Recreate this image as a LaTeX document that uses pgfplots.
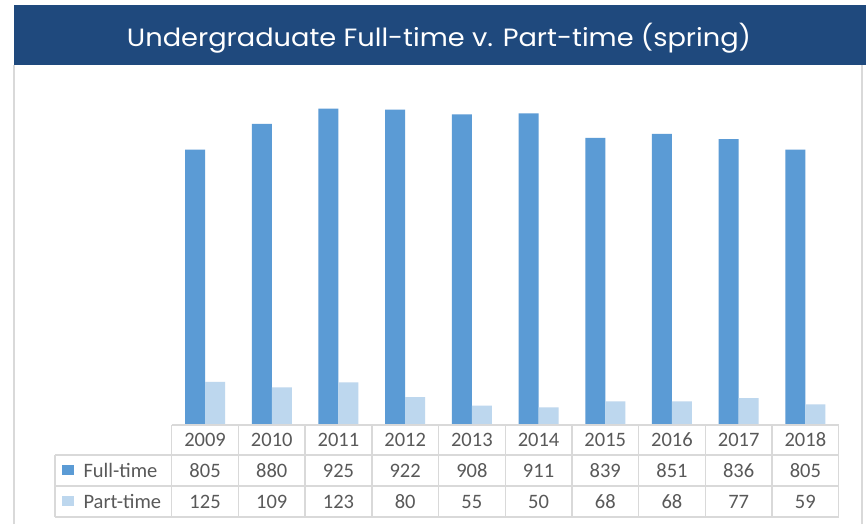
\documentclass[border=0pt]{standalone}
\usepackage{fontspec}
\setmainfont{Carlito}
\newfontfamily\titlefont{Poppins}
\usepackage{pgfplots}
\pgfplotsset{compat=1.18}
\definecolor{banner}{HTML}{1F497D}
\definecolor{fullc}{HTML}{5B9BD5}
\definecolor{partc}{HTML}{BDD7EE}
\definecolor{gridc}{HTML}{D9D9D9}
\definecolor{txt}{HTML}{595959}
\begin{document}
\begin{tikzpicture}
\begin{scope}[x=1pt,y=1pt]
\fill[white] (0,0) rectangle (866,524);
% banner
\fill[banner] (14,459) rectangle (866,519);
\node[text=white,font=\titlefont\fontsize{25}{30}\selectfont,anchor=base,xscale=1.09] at (439,477.5) {Undergraduate Full-time v. Part-time (spring)};
% frame
\draw[gridc,line width=1.2pt] (14,0) -- (14,459);
\draw[gridc,line width=1.2pt] (862,0) -- (862,459);
\end{scope}
\begin{axis}[
  at={(171.7pt,99.5pt)}, anchor=south west,
  scale only axis, width=667pt, height=341.5pt,
  xmin=-0.5, xmax=9.5, ymin=0, ymax=1000,
  hide axis, clip=false,
  ybar=0pt, bar width=20pt,
]
\addplot[fill=fullc,draw=none] coordinates {(0,805) (1,880) (2,925) (3,922) (4,908) (5,911) (6,839) (7,851) (8,836) (9,805)};
\addplot[fill=partc,draw=none] coordinates {(0,125) (1,109) (2,123) (3,80) (4,55) (5,50) (6,68) (7,68) (8,77) (9,59)};
\end{axis}
\begin{scope}[x=1pt,y=1pt]
% data table
\begin{scope}[gridc,line width=1.4pt]
\draw (171.7,99) -- (838.7,99);
\draw (55,69) -- (838.7,69);
\draw (55,38) -- (838.7,38);
\draw (55,7) -- (838.7,7);
\draw (55,7) -- (55,69);
\foreach \k in {0,...,10} {\draw ({171.7+66.7*\k},7) -- ({171.7+66.7*\k},99);}
\end{scope}
\begin{scope}[every node/.style={text=txt,font=\fontsize{20.5}{24}\selectfont}]
\foreach \y [count=\i from 0] in {2009,2010,2011,2012,2013,2014,2015,2016,2017,2018}
  {\node at ({171.7+66.7*(\i+0.5)},84) {\y};}
\foreach \v [count=\i from 0] in {805,880,925,922,908,911,839,851,836,805}
  {\node at ({171.7+66.7*(\i+0.5)},53.5) {\v};}
\foreach \v [count=\i from 0] in {125,109,123,80,55,50,68,68,77,59}
  {\node at ({171.7+66.7*(\i+0.5)},22.5) {\v};}
\fill[fullc] (61.7,49) rectangle (74,59);
\fill[partc] (61.7,18) rectangle (74,28);
\node[anchor=west] at (80,53.5) {Full-time};
\node[anchor=west] at (80,22.5) {Part-time};
\end{scope}
\end{scope}
\end{tikzpicture}
\end{document}
